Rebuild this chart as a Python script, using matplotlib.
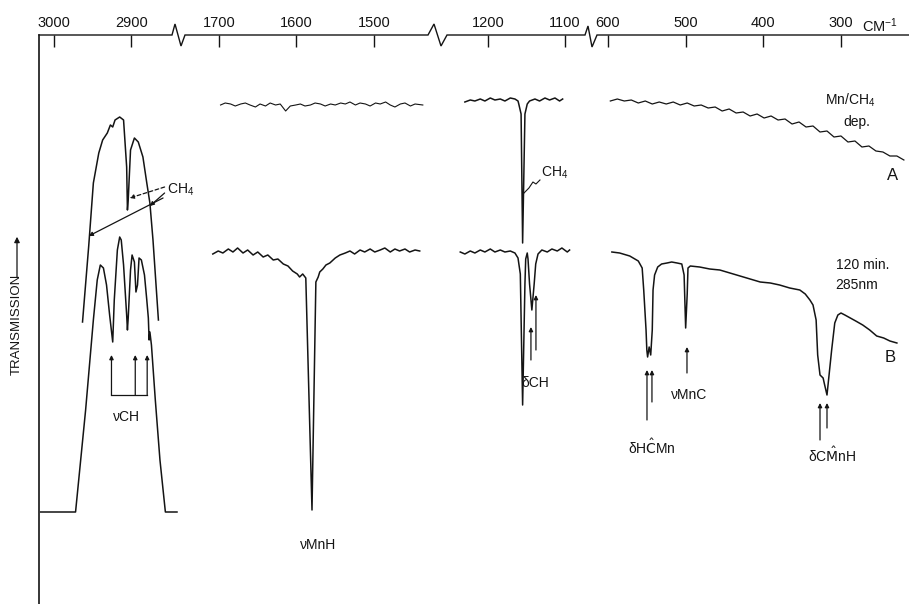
import matplotlib
matplotlib.use("Agg")
import matplotlib.pyplot as plt

plt.rcParams['font.family'] = ['Liberation Sans', 'DejaVu Sans']
plt.rcParams['mathtext.fontset'] = 'custom'
plt.rcParams['mathtext.rm'] = 'Liberation Sans'
plt.rcParams['mathtext.it'] = 'Liberation Sans:italic'
plt.rcParams['mathtext.bf'] = 'Liberation Sans:bold'

# ---------------- data (wavenumber cm-1, transmission arbitrary units) -------------
# Segment 1 : 3000-2840 cm-1 (C-H stretching region)
s1_A_wn = [2963, 2955, 2949, 2942, 2937, 2931, 2927, 2924, 2921, 2915, 2910, 2906, 2905,
           2904, 2901, 2896, 2891, 2885, 2880, 2876, 2872, 2865]
s1_A_T = [282, 358, 421, 451, 464, 471, 479, 477, 484, 487, 484, 437, 394,
          404, 454, 466, 462, 447, 421, 401, 364, 284]
s1_B_wn = [3017, 2972, 2959, 2949, 2944, 2940, 2936, 2932, 2928, 2924, 2922, 2918, 2915,
           2913, 2910, 2906, 2905, 2904, 2901, 2899, 2896, 2894, 2892, 2890, 2887, 2883,
           2880, 2878, 2877, 2876, 2874, 2869, 2863, 2856, 2841]
s1_B_T = [92, 92, 194, 284, 324, 339, 336, 319, 289, 262, 304, 354, 367,
          364, 339, 289, 274, 286, 334, 349, 342, 312, 319, 346, 344, 329,
          304, 286, 264, 272, 259, 204, 144, 92, 92]

# Segment 2 : 1750-1420 cm-1 (Mn-H stretching)
s2_A_wn = [1698, 1692, 1685, 1679, 1672, 1666, 1660, 1653, 1647, 1640, 1634, 1627, 1621,
           1614, 1608, 1601, 1595, 1589, 1582, 1576, 1569, 1563, 1556, 1550, 1543, 1537,
           1531, 1524, 1518, 1511, 1505, 1498, 1492, 1485, 1479, 1473, 1466, 1460, 1453,
           1447, 1437]
s2_A_T = [499, 501, 500, 498, 500, 501, 499, 497, 500, 498, 501, 499, 500,
          493, 498, 499, 500, 498, 499, 501, 500, 498, 500, 499, 501, 500,
          502, 499, 501, 500, 498, 501, 500, 502, 499, 497, 500, 501, 498,
          500, 499]
s2_B_wn = [1708, 1701, 1695, 1688, 1682, 1676, 1669, 1663, 1656, 1650, 1643, 1637, 1630,
           1624, 1617, 1611, 1605, 1599, 1596, 1592, 1588, 1580, 1575, 1572, 1570, 1566,
           1562, 1557, 1550, 1544, 1537, 1531, 1525, 1518, 1512, 1505, 1499, 1492, 1486,
           1479, 1473, 1467, 1460, 1454, 1447, 1441]
s2_B_T = [350, 353, 351, 355, 352, 356, 351, 354, 349, 352, 347, 349, 344,
          345, 340, 338, 333, 330, 327, 330, 326, 94, 322, 327, 332, 335,
          339, 341, 346, 349, 351, 353, 350, 354, 352, 355, 352, 354, 356,
          352, 355, 353, 355, 352, 354, 353]

# Segment 3 : 1265-1065 cm-1 (CH deformation)
s3_A_wn = [1230, 1223, 1217, 1210, 1204, 1197, 1191, 1184, 1178, 1171, 1165, 1161, 1160,
           1157, 1155, 1152, 1149, 1146, 1139, 1133, 1126, 1120, 1113, 1107, 1103]
s3_A_T = [502, 504, 503, 505, 503, 506, 504, 505, 503, 506, 505, 503, 500,
          490, 361, 490, 500, 503, 505, 503, 506, 504, 506, 503, 505]
s3_B_wn = [1236, 1230, 1223, 1217, 1210, 1204, 1197, 1191, 1184, 1178, 1171, 1165, 1161,
           1158, 1155, 1152, 1151, 1149, 1148, 1146, 1143, 1140, 1138, 1135, 1130, 1123,
           1117, 1110, 1104, 1097, 1094]
s3_B_T = [352, 350, 353, 351, 354, 352, 355, 352, 354, 352, 353, 351, 346,
          330, 199, 320, 345, 351, 345, 320, 294, 320, 340, 350, 354, 352,
          355, 353, 356, 352, 354]

# Segment 4 : 620-215 cm-1 (Mn-C stretch, deformations)
s4_A_wn = [597, 588, 579, 570, 561, 552, 543, 534, 525, 516, 507, 498, 489, 480, 471, 462,
           453, 444, 435, 426, 417, 408, 399, 390, 381, 372, 363, 354, 345, 336, 327, 318,
           309, 300, 291, 282, 273, 264, 255, 246, 237, 228, 219]
s4_A_T = [503, 505, 503, 504, 501, 503, 500, 502, 500, 502, 499, 501, 498, 499, 496, 497,
          493, 495, 491, 492, 488, 490, 486, 488, 484, 485, 480, 482, 477, 478, 472, 473,
          467, 468, 462, 463, 457, 458, 453, 452, 448, 448, 444]
s4_B_wn = [595, 585, 572, 561, 556, 554, 551, 550, 549, 547, 545, 543, 542, 540, 536, 531,
           524, 518, 511, 505, 502, 500, 498, 497, 494, 482, 469, 456, 443, 430, 417, 404,
           391, 379, 366, 353, 346, 340, 336, 332, 330, 327, 323, 321, 318, 316, 312, 308,
           304, 300, 295, 288, 281, 272, 263, 254, 245, 237, 228]
s4_B_T = [352, 351, 348, 343, 336, 314, 274, 254, 247, 257, 249, 274, 314, 329, 337, 340,
          341, 342, 341, 340, 329, 276, 310, 336, 338, 337, 335, 334, 331, 328, 325, 322,
          321, 319, 316, 314, 310, 304, 299, 284, 249, 229, 226, 219, 209, 224, 254, 281,
          289, 291, 289, 286, 283, 279, 274, 268, 266, 263, 261]

seg1_ticks = [3000, 2900]
seg2_ticks = [1700, 1600, 1500]
seg3_ticks = [1200, 1100]
seg4_ticks = [600, 500, 400, 300]

# ---------------- figure ----------------
W, H = 909, 604
fig = plt.figure(figsize=(W / 100, H / 100), dpi=100)
frame = fig.add_axes([0, 0, 1, 1])
frame.set_xlim(0, W)
frame.set_ylim(H, 0)
frame.axis('off')

INK = '#141414'
AXY = 35  # pixel row of the top axis line

# top axis line with break symbols and left vertical line
frame.plot([39, 172, 175, 181, 185, 428, 434, 441, 447, 585, 588, 592, 597, W],
           [AXY, AXY, 24, 46, AXY, AXY, 24, 46, AXY, AXY, 26, 47, AXY, AXY],
           color=INK, lw=1.0, solid_joinstyle='miter')
frame.plot([39, 39], [AXY, H], color=INK, lw=1.2)

# TRANSMISSION label with arrow
frame.text(17, 324, 'TRANSMISSION', rotation=90, ha='center', va='center',
           fontsize=9.5, color=INK)
frame.annotate('', xy=(17, 234), xytext=(17, 280),
               arrowprops=dict(arrowstyle='-|>', lw=0.9, color=INK, mutation_scale=8))


def make_seg(px0, px1, wn0, wn1, ticks):
    ax = fig.add_axes([px0 / W, 0, (px1 - px0) / W, (H - AXY) / H])
    ax.set_xlim(wn0, wn1)
    ax.set_ylim(0, H - AXY)
    ax.patch.set_alpha(0)
    for sp in ax.spines.values():
        sp.set_visible(False)
    ax.xaxis.tick_top()
    ax.set_xticks(ticks)
    ax.set_xticklabels([str(t) for t in ticks])
    ax.tick_params(axis='x', direction='in', length=8.5, width=1.0, pad=3.5,
                   labelsize=10.5, colors=INK)
    ax.set_yticks([])
    return ax


ax1 = make_seg(39, 178, 3019.2, 2839.7, seg1_ticks)
ax2 = make_seg(178, 437, 1752.9, 1418.7, seg2_ticks)
ax3 = make_seg(437, 592, 1266.2, 1064.9, seg3_ticks)
ax4 = make_seg(592, W, 620.6, 212.4, seg4_ticks)

lw = 1.1
ax1.plot(s1_A_wn, s1_A_T, color=INK, lw=lw)
ax1.plot(s1_B_wn, s1_B_T, color=INK, lw=lw)
ax2.plot(s2_A_wn, s2_A_T, color=INK, lw=0.8)
ax2.plot(s2_B_wn, s2_B_T, color=INK, lw=lw)
ax3.plot(s3_A_wn, s3_A_T, color=INK, lw=lw)
ax3.plot(s3_B_wn, s3_B_T, color=INK, lw=lw)
ax4.plot(s4_A_wn, s4_A_T, color=INK, lw=0.9)
ax4.plot(s4_B_wn, s4_B_T, color=INK, lw=lw)

AP = dict(arrowstyle='-|>', lw=0.9, color=INK, mutation_scale=6, shrinkA=0, shrinkB=0)
FS = 10


def arrow(ax, x, y0, y1):
    ax.annotate('', xy=(x, y1), xytext=(x, y0), arrowprops=AP, annotation_clip=False)


# segment 1 annotations
ax1.text(2854, 414, 'CH$_4$', fontsize=FS, ha='left', va='center', color=INK, clip_on=False)
ax1.annotate('', xy=(2902, 406), xytext=(2857, 417),
             arrowprops=dict(AP, linestyle=(0, (3, 2))), annotation_clip=False)
ax1.annotate('', xy=(2876, 398), xytext=(2857, 411), arrowprops=AP, annotation_clip=False)
ax1.annotate('', xy=(2955, 368), xytext=(2859, 406), arrowprops=AP, annotation_clip=False)
for w in (2925.6, 2894.9, 2879.5):
    arrow(ax1, w, 209, 249)
ax1.plot([2925.6, 2879.5], [209, 209], color=INK, lw=0.9)
ax1.text(2906, 187, 'νCH', fontsize=FS, ha='center', va='center', color=INK)

# segment 2
ax2.text(1572, 59, 'νMnH', fontsize=FS, ha='center', va='center', color=INK)

# segment 3
ax3.text(1131, 431, 'CH$_4$', fontsize=FS, ha='left', va='center', color=INK)
ax3.plot([1132.5, 1137.7, 1141.6, 1146.8, 1153.2], [424, 420, 422, 416, 411],
         color=INK, lw=0.8)
arrow(ax3, 1144.2, 244, 277)
arrow(ax3, 1137.7, 254, 309)
ax3.text(1138, 221, 'δCH', fontsize=FS, ha='center', va='center', color=INK)

# segment 4
ax4.text(288, 504, 'Mn/CH$_4$', fontsize=FS, ha='center', va='center', color=INK)
ax4.text(280, 482, 'dep.', fontsize=FS, ha='center', va='center', color=INK)
ax4.text(233, 429, 'A', fontsize=12, ha='center', va='center', color=INK)
ax4.text(307, 339, '120 min.', fontsize=FS, ha='left', va='center', color=INK)
ax4.text(307, 319, '285nm', fontsize=FS, ha='left', va='center', color=INK)
ax4.text(237, 246, 'B', fontsize=12, ha='center', va='center', color=INK)
arrow(ax4, 549.8, 184, 234)
arrow(ax4, 543.4, 202, 234)
ax4.text(544, 157, r'δH$\hat{\mathrm{C}}$Mn', fontsize=FS, ha='center', va='center',
         color=INK, math_fontfamily='dejavusans')
arrow(ax4, 498.3, 231, 257)
ax4.text(496, 209, 'νMnC', fontsize=FS, ha='center', va='center', color=INK)
arrow(ax4, 327.0, 164, 201)
arrow(ax4, 318.0, 176, 201)
ax4.text(311, 149, r'δC$\hat{\mathrm{M}}$nH', fontsize=FS, ha='center', va='center',
         color=INK, math_fontfamily='dejavusans')

ax4.text(250, 1.0, 'CM$^{-1}$', transform=ax4.get_xaxis_transform(), fontsize=10.5,
         ha='center', va='bottom', color=INK, clip_on=False)

fig.savefig('out.png', dpi=100)
